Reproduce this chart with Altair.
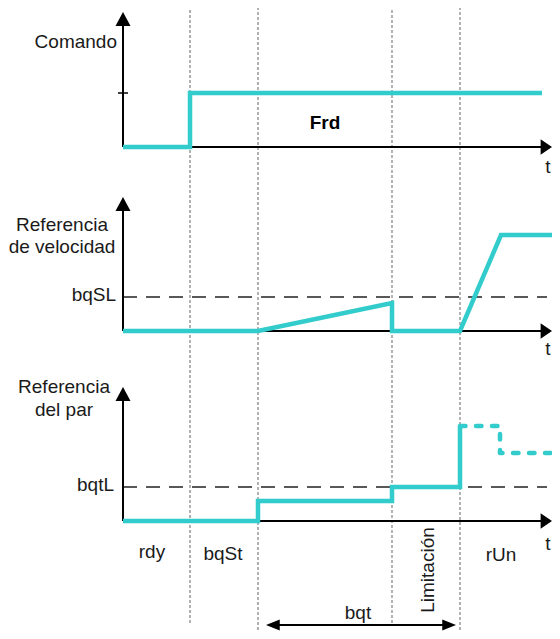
import altair as alt
import pandas as pd

CYAN = "#33CCCC"
FONT = "Liberation Sans"

# ---- data (diagram units: x = time position, y = level position, top-down) ----
event_t = [190, 258, 392, 460]          # dotted guides (phase boundaries)
guide_top = [5, 7, 5, 7]
guide_bottom = [623, 639, 623, 639]

axis_x = 123
baselines = [147, 331, 521]              # t axes of the 3 panels
axis_tips = [12, 197, 387]               # top of each vertical axis
t_end = 552                              # tip of the t arrows

cmd_t = [123, 190, 190, 542]
cmd_v = [147, 147, 93, 93]
spd_t = [123, 258, 392, 392, 460, 501, 555]
spd_v = [331, 331, 303, 331, 331, 235, 235]
trq_t = [123, 258, 258, 392, 392, 460, 460]
trq_v = [521, 521, 501, 501, 487, 487, 426]
run_t = [460, 500, 500, 560]
run_v = [426, 426, 453, 453]

thresh_v = [297, 487]
thresh_end = 547
cmd_tick = 93

bqt_start, bqt_end, bqt_y = 266, 456, 625

xs = alt.Scale(domain=[8, 552], nice=False, zero=False)
ys = alt.Scale(domain=[8, 631], nice=False, zero=False, reverse=True)


def X(f="x"):
    return alt.X(f"{f}:Q", scale=xs, axis=None)


def Y(f="y"):
    return alt.Y(f"{f}:Q", scale=ys, axis=None)


# dotted guides
guides = pd.DataFrame({"x": event_t, "y": guide_top, "y2": guide_bottom})
g_layer = alt.Chart(guides).mark_rule(color="#8a8a8a", strokeWidth=1.3, strokeDash=[3, 2], clip=True).encode(
    x=X(), y=Y(), y2="y2:Q")

# thresholds
th = pd.DataFrame({"x": [axis_x] * 2, "x2": [thresh_end] * 2, "y": thresh_v})
th_layer = alt.Chart(th).mark_rule(color="#222222", strokeWidth=1.6, strokeDash=[14, 9]).encode(
    x=X(), x2="x2:Q", y=Y())

# axes
vax = pd.DataFrame({"x": [axis_x] * 3, "y": [t + 8 for t in axis_tips], "y2": baselines})
hax = pd.DataFrame({"x": [axis_x] * 3, "x2": [t_end - 6] * 3, "y": baselines})
vax_layer = alt.Chart(vax).mark_rule(color="black", strokeWidth=2).encode(x=X(), y=Y(), y2="y2:Q")
hax_layer = alt.Chart(hax).mark_rule(color="black", strokeWidth=2).encode(x=X(), x2="x2:Q", y=Y())
tick = pd.DataFrame({"x": [axis_x - 5], "x2": [axis_x + 5], "y": [cmd_tick]})
tick_layer = alt.Chart(tick).mark_rule(color="black", strokeWidth=1.5).encode(x=X(), x2="x2:Q", y=Y())

up_tips = pd.DataFrame({"x": [axis_x] * 3, "y": axis_tips})
up_layer = alt.Chart(up_tips).mark_point(
    shape="M0,0L1,1.87L-1,1.87Z", size=225, filled=True, color="black", opacity=1, strokeWidth=0
).encode(x=X(), y=Y())
right_tips = pd.DataFrame({"x": [t_end] * 3, "y": baselines})
right_layer = alt.Chart(right_tips).mark_point(
    shape="M0,0L-1.47,-1L-1.47,1Z", size=240, filled=True, color="black", opacity=1, strokeWidth=0
).encode(x=X(), y=Y())

# bqt double arrow
shaft = pd.DataFrame({"x": [bqt_start + 6], "x2": [bqt_end - 6], "y": [bqt_y]})
shaft_layer = alt.Chart(shaft).mark_rule(color="black", strokeWidth=2).encode(x=X(), x2="x2:Q", y=Y())
bl = pd.DataFrame({"x": [bqt_start], "y": [bqt_y]})
br = pd.DataFrame({"x": [bqt_end], "y": [bqt_y]})
bl_layer = alt.Chart(bl).mark_point(shape="M0,0L2.5,-1L2.5,1Z", size=121, filled=True,
                                    color="black", opacity=1, strokeWidth=0).encode(x=X(), y=Y())
br_layer = alt.Chart(br).mark_point(shape="M0,0L-2.5,-1L-2.5,1Z", size=121, filled=True,
                                    color="black", opacity=1, strokeWidth=0).encode(x=X(), y=Y())

# signals
rows = []
for name, ts, vs in [("cmd", cmd_t, cmd_v), ("spd", spd_t, spd_v), ("trq", trq_t, trq_v)]:
    for i, (t, v) in enumerate(zip(ts, vs)):
        rows.append({"s": name, "o": i, "x": t, "y": v})
sig = pd.DataFrame(rows)
sig_layer = alt.Chart(sig).mark_line(color=CYAN, strokeWidth=4.5, strokeJoin="miter", strokeCap="butt",
                                     clip=True).encode(x=X(), y=Y(), detail="s:N", order="o:Q")
run = pd.DataFrame({"o": range(len(run_t)), "x": run_t, "y": run_v})
run_layer = alt.Chart(run).mark_line(color=CYAN, strokeWidth=4.5, strokeDash=[5.5, 10.5], strokeCap="round",
                                      strokeJoin="round", clip=True).encode(x=X(), y=Y(), order="o:Q")

# texts
right_txt = pd.DataFrame({"t": ["Comando", "bqSL", "bqtL"], "x": [117, 116, 114], "y": [48, 301, 491]})
center_txt = pd.DataFrame({
    "t": ["Referencia", "de velocidad", "Referencia", "del par", "rdy", "bqSt", "rUn", "bqt",
          "t", "t", "t"],
    "x": [62, 62, 64, 64, 152, 223, 501, 358, 548, 548, 548],
    "y": [231, 253, 393, 416, 558, 560, 561, 619, 173, 355, 550]})
bold_txt = pd.DataFrame({"t": ["Frd"], "x": [325], "y": [129]})
rot_txt = pd.DataFrame({"t": ["Limitación"], "x": [434], "y": [570]})

tr = alt.Chart(right_txt).mark_text(align="right", baseline="alphabetic", font=FONT, fontSize=19,
                                    color="#1a1a1a").encode(x=X(), y=Y(), text="t:N")
tc = alt.Chart(center_txt).mark_text(align="center", baseline="alphabetic", font=FONT, fontSize=19,
                                     color="#1a1a1a").encode(x=X(), y=Y(), text="t:N")
tb = alt.Chart(bold_txt).mark_text(align="center", baseline="alphabetic", font=FONT, fontSize=19,
                                   fontWeight="bold", color="black").encode(x=X(), y=Y(), text="t:N")
trot = alt.Chart(rot_txt).mark_text(align="center", baseline="alphabetic", font=FONT, fontSize=19,
                                    angle=270, color="#1a1a1a").encode(x=X(), y=Y(), text="t:N")

chart = alt.layer(
    g_layer, th_layer, vax_layer, hax_layer, tick_layer, up_layer, right_layer,
    shaft_layer, bl_layer, br_layer, sig_layer, run_layer, tr, tc, tb, trot
).properties(
    width=544, height=623, padding=0, autosize=alt.AutoSizeParams(type="none")
).configure_view(stroke=None)

chart.save("out.html", embed_options={"renderer": "svg", "actions": False})
